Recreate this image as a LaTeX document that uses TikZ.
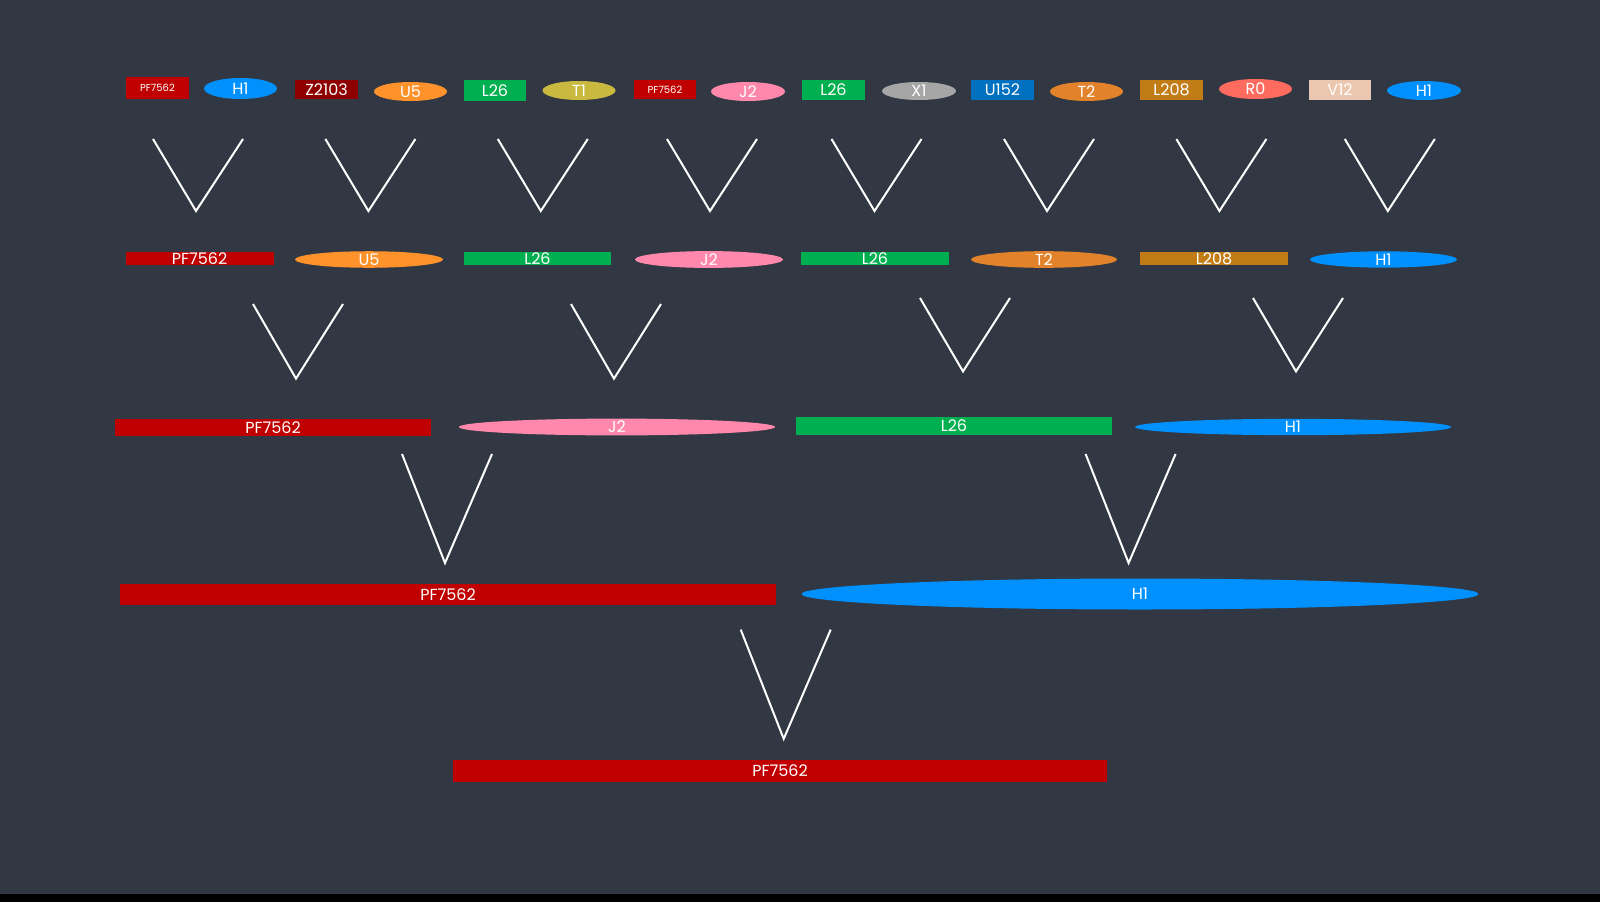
\documentclass[tikz,border=0pt]{standalone}
\usepackage{fontspec}
\setmainfont{Poppins}
\usetikzlibrary{shapes.geometric}
\definecolor{Canvas}{HTML}{323843}
\definecolor{PfRed}{HTML}{C00000}
\definecolor{HBlue}{HTML}{0091FF}
\definecolor{ZRed}{HTML}{8E0000}
\definecolor{UOrange}{HTML}{FF922B}
\definecolor{LGreen}{HTML}{00B050}
\definecolor{TOlive}{HTML}{C9B93F}
\definecolor{JPink}{HTML}{FF88AC}
\definecolor{XGray}{HTML}{A6A6A6}
\definecolor{UBlue}{HTML}{0070C0}
\definecolor{TOrange}{HTML}{E2822A}
\definecolor{LBrown}{HTML}{C27C16}
\definecolor{RSalmon}{HTML}{FF6B5E}
\definecolor{VPeach}{HTML}{EBC7AF}

\begin{document}
\begin{tikzpicture}[x=1pt,y=-1pt,
  every node/.style={inner sep=0pt,text=white,font=\fontsize{16}{16}\selectfont},
  box/.style={rectangle},
  oval/.style={ellipse},
  small/.style={font=\fontsize{10}{10}\selectfont},
  vline/.style={white,line width=2pt}]
\fill[Canvas] (0,0) rectangle (1600,902);
\fill[black] (0,894) rectangle (1600,902);
% first round
\node[box,fill=PfRed,minimum width=63pt,minimum height=22pt,small] (a1) at (157.5,88) {PF7562};
\node[oval,fill=HBlue,minimum width=73pt,minimum height=21pt] (a2) at (240.5,88.5) {H1};
\node[box,fill=ZRed,minimum width=63pt,minimum height=19pt] (a3) at (326.5,89.5) {Z2103};
\node[oval,fill=UOrange,minimum width=73pt,minimum height=19pt] (a4) at (410.5,91.5) {U5};
\node[box,fill=LGreen,minimum width=62pt,minimum height=21pt] (a5) at (495,90.5) {L26};
\node[oval,fill=TOlive,minimum width=73pt,minimum height=19pt] (a6) at (579,90.5) {T1};
\node[box,fill=PfRed,minimum width=62pt,minimum height=19pt,small] (a7) at (665,89.5) {PF7562};
\node[oval,fill=JPink,minimum width=74pt,minimum height=19pt] (a8) at (748,91.5) {J2};
\node[box,fill=LGreen,minimum width=63pt,minimum height=20pt] (a9) at (833.5,90) {L26};
\node[oval,fill=XGray,minimum width=74pt,minimum height=18pt] (a10) at (919,91) {X1};
\node[box,fill=UBlue,minimum width=63pt,minimum height=20pt] (a11) at (1002.5,90) {U152};
\node[oval,fill=TOrange,minimum width=73pt,minimum height=19pt] (a12) at (1086.5,91.5) {T2};
\node[box,fill=LBrown,minimum width=63pt,minimum height=20pt] (a13) at (1171.5,90) {L208};
\node[oval,fill=RSalmon,minimum width=73pt,minimum height=20pt] (a14) at (1255.5,89) {R0};
\node[box,fill=VPeach,minimum width=62pt,minimum height=20pt] (a15) at (1340,90) {V12};
\node[oval,fill=HBlue,minimum width=74pt,minimum height=19pt] (a16) at (1424,90.5) {H1};
% second round
\node[box,fill=PfRed,minimum width=148pt,minimum height=13pt] (b1) at (199.5,258.5) {PF7562};
\node[oval,fill=UOrange,minimum width=148pt,minimum height=13pt] (b2) at (369,259.5) {U5};
\node[box,fill=LGreen,minimum width=147pt,minimum height=13pt] (b3) at (537.5,258.5) {L26};
\node[oval,fill=JPink,minimum width=148pt,minimum height=13pt] (b4) at (709,259.5) {J2};
\node[box,fill=LGreen,minimum width=148pt,minimum height=13pt] (b5) at (875,258.5) {L26};
\node[oval,fill=TOrange,minimum width=146pt,minimum height=13pt] (b6) at (1044,259.5) {T2};
\node[box,fill=LBrown,minimum width=148pt,minimum height=13pt] (b7) at (1214,258.5) {L208};
\node[oval,fill=HBlue,minimum width=147pt,minimum height=13pt] (b8) at (1383.5,259.5) {H1};
% third round
\node[box,fill=PfRed,minimum width=316pt,minimum height=17pt] (c1) at (273,427.5) {PF7562};
\node[oval,fill=JPink,minimum width=316pt,minimum height=15pt] (c2) at (617,427) {J2};
\node[box,fill=LGreen,minimum width=316pt,minimum height=18pt] (c3) at (954,426) {L26};
\node[oval,fill=HBlue,minimum width=316pt,minimum height=15pt] (c4) at (1293,427) {H1};
% fourth round
\node[box,fill=PfRed,minimum width=656pt,minimum height=21pt] (d1) at (448,594.5) {PF7562};
\node[oval,fill=HBlue,minimum width=677pt,minimum height=31pt] (d2) at (1140,594) {H1};
% final
\node[box,fill=PfRed,minimum width=654pt,minimum height=22pt] (e) at (780,771) {PF7562};
% pairings
\foreach \x in {196,368.4,540.8,710,874.5,1047,1219.4,1387.8}
  \draw[vline] (\x-43,139) -- (\x,211) -- (\x+47,139);
\foreach \x in {296,614}
  \draw[vline] (\x-43,304) -- (\x,378.6) -- (\x+47,304);
\foreach \x in {963,1296}
  \draw[vline] (\x-43,298) -- (\x,371.4) -- (\x+47,298);
\foreach \x in {445,1128.6}
  \draw[vline] (\x-43,454) -- (\x,563) -- (\x+47,454);
\draw[vline] (740.7,629.6) -- (783.7,738.8) -- (830.7,629.6);
\end{tikzpicture}
\end{document}
